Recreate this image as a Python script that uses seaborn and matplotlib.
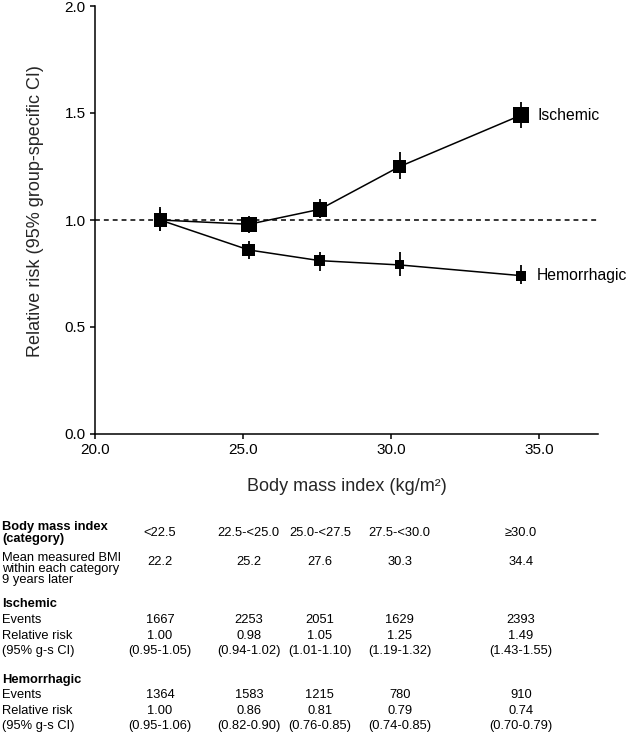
import matplotlib
matplotlib.use("Agg")
import matplotlib.pyplot as plt
import matplotlib.transforms as mtransforms
import seaborn as sns
import pandas as pd

# ---- data ----
categories = ["<22.5", "22.5-<25.0", "25.0-<27.5", "27.5-<30.0", "\u226530.0"]
mean_bmi = [22.2, 25.2, 27.6, 30.3, 34.4]

isch_events = [1667, 2253, 2051, 1629, 2393]
isch_rr = [1.00, 0.98, 1.05, 1.25, 1.49]
isch_lo = [0.95, 0.94, 1.01, 1.19, 1.43]
isch_hi = [1.05, 1.02, 1.10, 1.32, 1.55]

hem_events = [1364, 1583, 1215, 780, 910]
hem_rr = [1.00, 0.86, 0.81, 0.79, 0.74]
hem_lo = [0.95, 0.82, 0.76, 0.74, 0.70]
hem_hi = [1.06, 0.90, 0.85, 0.85, 0.79]

x_ticks = [20.0, 25.0, 30.0, 35.0]
y_ticks = [0.0, 0.5, 1.0, 1.5, 2.0]

df = pd.concat([
    pd.DataFrame({"bmi": mean_bmi, "rr": isch_rr, "lo": isch_lo, "hi": isch_hi,
                  "events": isch_events, "type": "Ischemic"}),
    pd.DataFrame({"bmi": mean_bmi, "rr": hem_rr, "lo": hem_lo, "hi": hem_hi,
                  "events": hem_events, "type": "Hemorrhagic"}),
], ignore_index=True)

# ---- style ----
sns.set_style("ticks")
FAM = ["Liberation Sans", "DejaVu Sans"]
plt.rcParams["font.family"] = FAM
plt.rcParams["axes.linewidth"] = 1.1
plt.rcParams["xtick.major.width"] = 1.1
plt.rcParams["ytick.major.width"] = 1.1
plt.rcParams["xtick.major.size"] = 3.6
plt.rcParams["ytick.major.size"] = 3.6
plt.rcParams["xtick.color"] = "black"
plt.rcParams["ytick.color"] = "black"
plt.rcParams["axes.edgecolor"] = "black"
plt.rcParams["text.color"] = "black"

W, H = 630, 734
fig = plt.figure(figsize=(W / 100, H / 100), dpi=100)
ax = fig.add_axes([95 / W, 1 - 434 / H, 503 / W, (434 - 6) / H])

ax.axhline(1.0, color="black", lw=1.1, ls=(0, (3.2, 2.6)), zorder=1)

sns.lineplot(data=df, x="bmi", y="rr", hue="type", palette=["black", "black"],
             estimator=None, sort=False, legend=False, lw=1.1, ax=ax, zorder=2)
ax.vlines(df["bmi"], df["lo"], df["hi"], color="black", lw=1.3, zorder=3)
sns.scatterplot(data=df, x="bmi", y="rr", hue="type", palette=["black", "black"],
                size="events", sizes=(0, 162), size_norm=(0, 3000), marker="s",
                linewidth=0, legend=False, ax=ax, zorder=4)

ax.set_xlim(20, 37)
ax.set_ylim(0, 2.0)
ax.set_xticks(x_ticks)
ax.set_xticklabels([f"{v:.1f}" for v in x_ticks], fontsize=11, family=FAM)
ax.set_yticks(y_ticks)
ax.set_yticklabels([f"{v:.1f}" for v in y_ticks], fontsize=11, family=FAM)
ax.tick_params(pad=3)
sns.despine(ax=ax)
ax.set_xlabel("Body mass index (kg/m\u00b2)", fontsize=13, family=FAM)
ax.set_ylabel("Relative risk (95% group-specific CI)", fontsize=13, family=FAM)
# place axis labels at measured pixel centres
ax.xaxis.set_label_coords(0.5, -(487 - 434) / 428, transform=ax.transAxes)
ax.xaxis.label.set_va("center")
ax.yaxis.set_label_coords(-(95 - 36) / 503, (434 - 211) / 428, transform=ax.transAxes)
ax.yaxis.label.set_va("center")

# series labels
ax.annotate("Ischemic", (mean_bmi[-1], isch_rr[-1]), xytext=(11.5, 0),
            textcoords="offset points", va="center", ha="left", fontsize=11.3,
            family=FAM)
ax.annotate("Hemorrhagic", (mean_bmi[-1], hem_rr[-1]), xytext=(11.5, 0),
            textcoords="offset points", va="center", ha="left", fontsize=11.3,
            family=FAM)

# ---- table below ----
fs = 9.3
tr = mtransforms.blended_transform_factory(ax.transData, fig.transFigure)


def fy(p):
    return 1 - p / H


def row_label(text, ypix, bold=False):
    fig.text(2 / W, fy(ypix), text, ha="left", va="center", fontsize=fs,
             fontweight="bold" if bold else "normal", linespacing=0.92,
             family=FAM)


def row_vals(vals, ypix):
    for xb, v in zip(mean_bmi, vals):
        ax.text(xb, fy(ypix), v, transform=tr, ha="center", va="center",
                fontsize=fs, clip_on=False, family=FAM)


row_label("Body mass index\n(category)", 533, bold=True)
row_vals(categories, 533)
row_label("Mean measured BMI\nwithin each category\n9 years later", 569)
row_vals([f"{v:.1f}" for v in mean_bmi], 562)

row_label("Ischemic", 604, bold=True)
row_label("Events", 620)
row_vals([str(v) for v in isch_events], 620)
row_label("Relative risk", 636)
row_vals([f"{v:.2f}" for v in isch_rr], 636)
row_label("(95% g-s CI)", 651)
row_vals([f"({a:.2f}-{b:.2f})" for a, b in zip(isch_lo, isch_hi)], 651)

row_label("Hemorrhagic", 680, bold=True)
row_label("Events", 695)
row_vals([str(v) for v in hem_events], 695)
row_label("Relative risk", 711)
row_vals([f"{v:.2f}" for v in hem_rr], 711)
row_label("(95% g-s CI)", 726)
row_vals([f"({a:.2f}-{b:.2f})" for a, b in zip(hem_lo, hem_hi)], 726)

fig.savefig("out.png", dpi=100)
